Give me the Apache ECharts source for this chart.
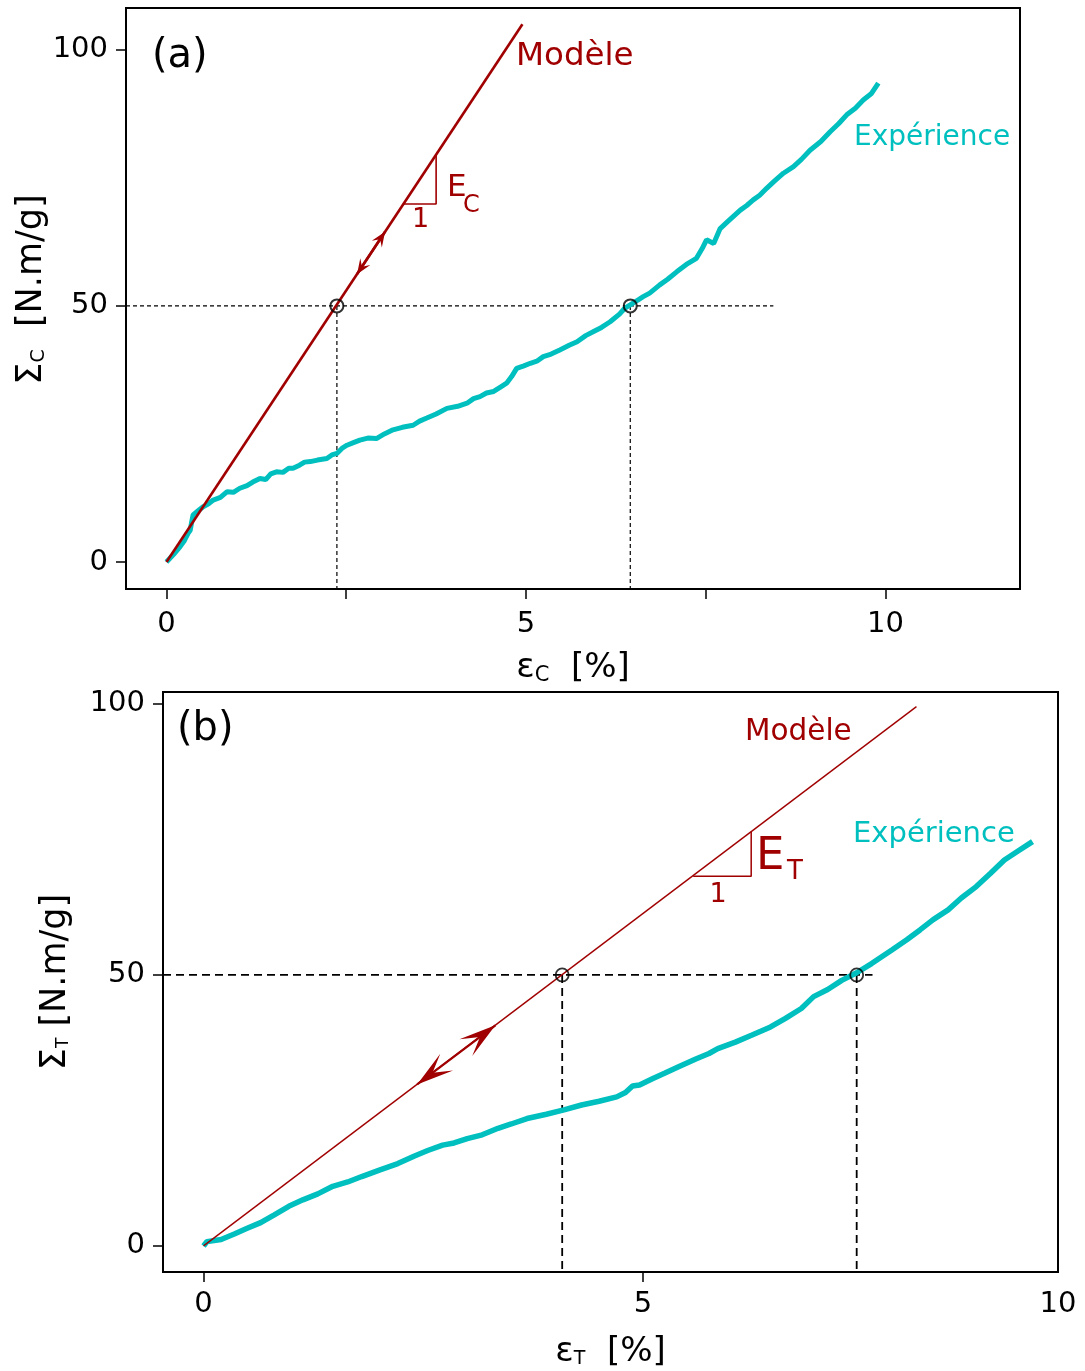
<!DOCTYPE html>
<html><head><meta charset="utf-8">
<script src="https://cdn.jsdelivr.net/npm/echarts@6/dist/echarts.min.js"></script>
<style>html,body{margin:0;padding:0;background:#fff}#c{width:1085px;height:1371px}</style>
</head><body><div id="c"></div>
<script>
const FONT = 'DejaVu Sans';
const RED = '#a00000';
const TEAL = '#00bfbf';

// ---------- Panel (a) ----------
const xRangeA = [-0.563, 11.87];
const yRangeA = [-5.27, 108.16];
const xTicksA = [0, 2.5, 5, 7.5, 10];
const xLabelsA = [0, 5, 10];
const yTicksA = [0, 50, 100];
const expA = [[0,0],[0.1,1.5],[0.19,3.0],[0.25,4.2],[0.30,5.6],[0.33,6.2],[0.35,7.8],[0.37,9.2],[0.44,10.0],[0.51,10.8],[0.58,11.3],[0.65,12.1],[0.75,12.6],[0.84,13.7],[0.93,13.6],[1.02,14.4],[1.12,14.9],[1.2,15.6],[1.3,16.3],[1.38,16.1],[1.45,17.2],[1.53,17.6],[1.62,17.5],[1.7,18.3],[1.76,18.3],[1.85,18.9],[1.92,19.5],[2.0,19.6],[2.1,19.9],[2.23,20.2],[2.3,20.9],[2.37,21.2],[2.45,22.3],[2.51,22.8],[2.6,23.3],[2.69,23.8],[2.8,24.2],[2.92,24.1],[3.03,25.0],[3.15,25.8],[3.28,26.3],[3.43,26.7],[3.52,27.5],[3.62,28.1],[3.75,28.9],[3.9,30.0],[4.05,30.4],[4.18,31.0],[4.27,31.9],[4.36,32.3],[4.45,33.0],[4.55,33.3],[4.65,34.2],[4.73,34.9],[4.8,36.2],[4.87,37.8],[4.97,38.3],[5.06,38.8],[5.15,39.2],[5.24,40.1],[5.35,40.6],[5.47,41.4],[5.6,42.3],[5.71,43.0],[5.83,44.2],[5.94,45.0],[6.05,45.8],[6.17,46.9],[6.3,48.4],[6.37,49.5],[6.45,50.2],[6.55,51.1],[6.63,51.8],[6.72,52.5],[6.86,54.1],[6.97,55.2],[7.1,56.7],[7.23,58.1],[7.37,59.3],[7.45,61.2],[7.51,62.9],[7.61,62.2],[7.7,65.1],[7.8,66.4],[7.98,68.7],[8.07,69.6],[8.16,70.7],[8.25,71.6],[8.35,73.0],[8.45,74.3],[8.58,75.9],[8.72,77.2],[8.83,78.6],[8.95,80.4],[9.1,82.1],[9.23,84.0],[9.35,85.6],[9.46,87.3],[9.58,88.6],[9.69,90.2],[9.8,91.4],[9.9,93.5]];
const modelA = [[0,0],[4.95,105]];
const pointsA = [[2.37,50],[6.45,50]];
const guideHA = [[xRangeA[0],50],[8.44,50]];
const guideV1A = [[2.37,50],[2.37,yRangeA[0]]];
const guideV2A = [[6.45,50],[6.45,yRangeA[0]]];
const triA = [[3.30,69.9],[3.75,69.9],[3.75,79.5]];
const arrowA = [[2.65,56.2,3.04,64.5]];

// ---------- Panel (b) ----------
const xRangeB = [-0.461, 9.72];
const yRangeB = [-4.81, 102.2];
const xTicksB = [0, 5];
const xLabelsB = [0, 5, 9.72];
const yTicksB = [0, 50, 100];
const expB = [[0,0],[0.04,0.8],[0.2,1.2],[0.35,2.2],[0.49,3.2],[0.65,4.3],[0.8,5.7],[0.97,7.3],[1.13,8.5],[1.3,9.6],[1.47,11.0],[1.64,11.8],[1.8,12.8],[2.0,14.0],[2.21,15.2],[2.4,16.6],[2.55,17.6],[2.72,18.6],[2.85,19.0],[3.0,19.8],[3.17,20.5],[3.35,21.7],[3.5,22.5],[3.68,23.5],[3.9,24.3],[4.1,25.1],[4.3,26.0],[4.5,26.7],[4.7,27.5],[4.8,28.3],[4.88,29.5],[4.96,29.7],[5.1,30.8],[5.25,31.9],[5.41,33.1],[5.6,34.5],[5.75,35.5],[5.85,36.4],[6.05,37.6],[6.24,38.9],[6.45,40.4],[6.62,42.0],[6.8,43.8],[6.94,46.0],[7.1,47.3],[7.26,49.0],[7.43,50.4],[7.6,52.1],[7.83,54.6],[8.0,56.5],[8.15,58.3],[8.3,60.2],[8.47,62.0],[8.62,64.2],[8.79,66.3],[8.95,68.7],[9.11,71.2],[9.27,72.9],[9.43,74.6]];
const modelB = [[0,0],[8.11,99.5]];
const pointsB = [[4.08,50],[7.43,50]];
const guideHB = [[xRangeB[0],50],[7.61,50]];
const guideV1B = [[4.08,50],[4.08,yRangeB[0]]];
const guideV2B = [[7.43,50],[7.43,yRangeB[0]]];
const triB = [[5.57,68.2],[6.23,68.2],[6.23,76.4]];
const arrowB = [[2.43,29.8,3.32,40.7]];

function doubleArrow(sz){
  return function(params, api){
    const p1 = api.coord([api.value(0), api.value(1)]);
    const p2 = api.coord([api.value(2), api.value(3)]);
    const dx = p2[0]-p1[0], dy = p2[1]-p1[1];
    const L = Math.hypot(dx, dy), ux = dx/L, uy = dy/L, nx = -uy, ny = ux;
    function head(t, d){
      const bx = t[0]-d[0]*sz.len, by = t[1]-d[1]*sz.len;
      const mx = t[0]-d[0]*sz.len*sz.notch, my = t[1]-d[1]*sz.len*sz.notch;
      return {type:'polygon', shape:{points:[[t[0],t[1]],[bx+nx*sz.half,by+ny*sz.half],[mx,my],[bx-nx*sz.half,by-ny*sz.half]]}, style:{fill:RED}};
    }
    return {type:'group', children:[
      {type:'line', shape:{x1:p1[0],y1:p1[1],x2:p2[0],y2:p2[1]}, style:{stroke:RED, lineWidth:sz.shaft}},
      head(p1,[-ux,-uy]), head(p2,[ux,uy])
    ]};
  };
}

function lineS(data, gi, color, width, extra){
  return Object.assign({type:'line', data:data, xAxisIndex:gi, yAxisIndex:gi, showSymbol:false, symbol:'none',
    lineStyle:{color:color, width:width}, silent:true, animation:false}, extra||{});
}
function dashS(data, gi, width, dash){
  return lineS(data, gi, '#000', width, {lineStyle:{color:'#000', width:width, type:dash}});
}

const tickLabel = {fontFamily:FONT, fontSize:29, color:'#000'};
const nameRich = (big, small, pad, lead) => ({
  f:{fontFamily:FONT, fontSize:big, color:'#000', lineHeight:42, padding:[0,0,0,lead||0]},
  m:{fontFamily:FONT, fontSize:big, color:'#000', lineHeight:42},
  s:{fontFamily:FONT, fontSize:small, color:'#000', lineHeight:42, padding:[pad,0,0,0]}
});

function xAxisCfg(gi, range, ticks, labels, name, rich, gap, margin, fmt){
  return {type:'value', gridIndex:gi, min:range[0], max:range[1],
    axisLine:{show:true, onZero:false, lineStyle:{color:'#000', width:2}},
    axisTick:{show:true, inside:false, length:10, customValues:ticks, lineStyle:{color:'#000', width:1.5}},
    axisLabel:{show:true, customValues:labels, margin:margin, formatter:fmt, ...tickLabel},
    splitLine:{show:false},
    name:name, nameLocation:'middle', nameGap:gap, nameMoveOverlap:false, nameTextStyle:{rich:rich}};
}
function yAxisCfg(gi, range, ticks, name, rich, gap){
  return {type:'value', gridIndex:gi, min:range[0], max:range[1],
    axisLine:{show:true, onZero:false, lineStyle:{color:'#000', width:2}},
    axisTick:{show:true, inside:false, length:10, customValues:ticks, lineStyle:{color:'#000', width:1.5}},
    axisLabel:{show:true, customValues:ticks, margin:18, ...tickLabel},
    splitLine:{show:false},
    name:name, nameLocation:'middle', nameRotate:90, nameGap:gap, nameMoveOverlap:false, nameTextStyle:{rich:rich}};
}

const txt = (t, x, y, size, color, align) => ({type:'text', x:x, y:y, silent:true, z:100,
  style:{text:t, fontFamily:FONT, fontSize:size, fill:color, align:align||'left', verticalAlign:'middle'}});

const chart = echarts.init(document.getElementById('c'), null, {renderer:'canvas'});
chart.setOption({
  animation:false,
  backgroundColor:'#fff',
  grid:[
    {left:126, top:8, width:894, height:581, show:true, borderColor:'#000', borderWidth:2, containLabel:false, outerBoundsMode:'none'},
    {left:163, top:692, width:895, height:580, show:true, borderColor:'#000', borderWidth:2, containLabel:false, outerBoundsMode:'none'}
  ],
  xAxis:[
    xAxisCfg(0, xRangeA, xTicksA, xLabelsA, '{f|ε}{s|C}{m|  [%]}', nameRich(34,21,15), 58, 21, v => String(v)),
    xAxisCfg(1, xRangeB, xTicksB, xLabelsB, '{f|ε}{s|T}{m|  [%]}', nameRich(34,19,15), 59, 18, v => String(Math.round(v/5)*5))
  ],
  yAxis:[
    yAxisCfg(0, yRangeA, yTicksA, '{f|Σ}{s|C}{m|  [N.m/g]}', nameRich(35,19,15,18), 73),
    yAxisCfg(1, yRangeB, yTicksB, '{f|Σ}{s|T}{m| [N.m/g]}', nameRich(35,17,15), 86)
  ],
  series:[
    dashS(guideHA, 0, 1.2, [4,3]), dashS(guideV1A, 0, 1.2, [4,3]), dashS(guideV2A, 0, 1.2, [4,3]),
    lineS(expA, 0, TEAL, 5),
    lineS(modelA, 0, RED, 2.6),
    lineS(triA, 0, RED, 1.6),
    {type:'custom', xAxisIndex:0, yAxisIndex:0, data:arrowA, renderItem:doubleArrow({len:15, half:6, notch:0.6, shaft:2.6}), silent:true, animation:false, z:5},
    {type:'scatter', xAxisIndex:0, yAxisIndex:0, data:pointsA, symbol:'circle', symbolSize:13, itemStyle:{color:'rgba(0,0,0,0)', borderColor:'#000', borderWidth:2}, silent:true, z:6},

    dashS(guideHB, 1, 1.8, [8,5]), dashS(guideV1B, 1, 1.8, [8,5]), dashS(guideV2B, 1, 1.8, [8,5]),
    lineS(expB, 1, TEAL, 5.5),
    lineS(modelB, 1, RED, 1.4),
    lineS(triB, 1, RED, 1.5),
    {type:'custom', xAxisIndex:1, yAxisIndex:1, data:arrowB, renderItem:doubleArrow({len:37, half:10.6, notch:0.52, shaft:2.2}), silent:true, animation:false, z:5},
    {type:'scatter', xAxisIndex:1, yAxisIndex:1, data:pointsB, symbol:'circle', symbolSize:13, itemStyle:{color:'rgba(0,0,0,0)', borderColor:'#000', borderWidth:1.8}, silent:true, z:6}
  ],
  graphic:[
    txt('(a)', 152, 57, 40, '#000'),
    txt('Modèle', 516, 57, 32.5, RED),
    txt('Expérience', 854, 138, 28, TEAL),
    txt('E', 447, 188, 31, RED),
    txt('C', 463, 205.5, 24, RED),
    txt('1', 420.5, 220, 27, RED, 'center'),
    txt('(b)', 177, 730, 40, '#000'),
    txt('Modèle', 745, 732, 29.5, RED),
    txt('Expérience', 853, 834, 29, TEAL),
    txt('E', 756, 857, 45, RED),
    txt('T', 787, 872, 26, RED),
    txt('1', 718, 895, 27, RED, 'center')
  ]
});
</script></body></html>
